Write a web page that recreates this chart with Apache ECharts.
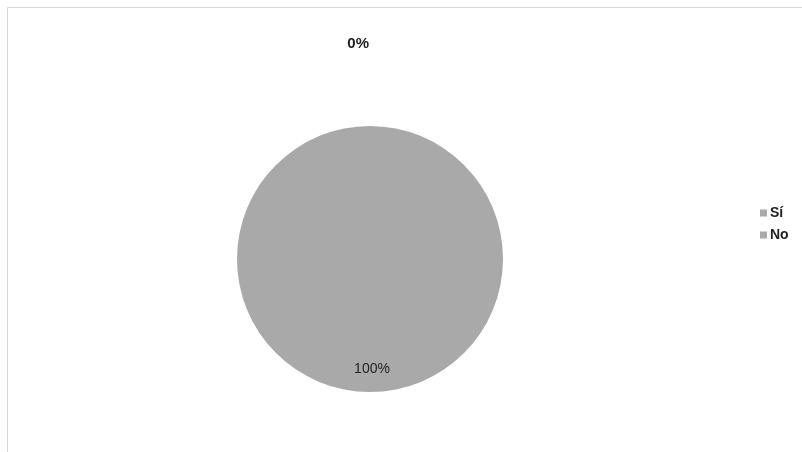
<!DOCTYPE html>
<html>
<head>
<meta charset="utf-8">
<script src="https://cdn.jsdelivr.net/npm/echarts@6/dist/echarts.min.js"></script>
<style>
  html, body { margin: 0; padding: 0; background: #fff; }
  #chart { width: 802px; height: 452px; }
</style>
</head>
<body>
<div id="chart"></div>
<script>
// Answer categories and their counts (share of responses)
const categories = ['Sí', 'No'];
const values = [0, 100];
const sliceColors = ['#a9a9a9', '#a9a9a9'];

const chart = echarts.init(document.getElementById('chart'));

const pieData = categories.map((name, i) => ({
  name: name,
  value: values[i],
  itemStyle: { color: sliceColors[i] }
}));
// The empty slice gets its label above the pie, the full slice near its bottom edge
pieData[0].label = { position: 'outside', offset: [4, -12], fontWeight: 'bold', color: '#222', fontSize: 15 };
pieData[0].labelLine = { show: false, length: 70, length2: 0 };
pieData[1].label = { position: 'inner', offset: [2, 41], fontWeight: 'normal', color: '#222', fontSize: 14 };

chart.setOption({
  backgroundColor: '#ffffff',
  animation: false,
  graphic: [{
    type: 'rect',
    shape: { x: 7.5, y: 7.5, width: 800, height: 450 },
    style: { fill: 'none', stroke: '#d6d6d6', lineWidth: 1 },
    silent: true
  }],
  legend: {
    orient: 'vertical',
    left: 755,
    top: 201,
    itemWidth: 7,
    itemHeight: 7,
    itemGap: 8,
    icon: 'rect',
    textStyle: { fontFamily: 'Liberation Sans', fontWeight: 'bold', fontSize: 14, color: '#222', padding: [0, 0, 0, -2] },
    data: categories
  },
  series: [{
    type: 'pie',
    center: [370, 259],
    radius: [0, 133],
    startAngle: 90,
    clockwise: true,
    minShowLabelAngle: 0,
    avoidLabelOverlap: false,
    label: {
      show: true,
      formatter: (p) => p.percent.toFixed(0) + '%',
      fontFamily: 'Liberation Sans',
      fontSize: 13
    },
    emphasis: { disabled: true },
    data: pieData
  }]
});
</script>
</body>
</html>
